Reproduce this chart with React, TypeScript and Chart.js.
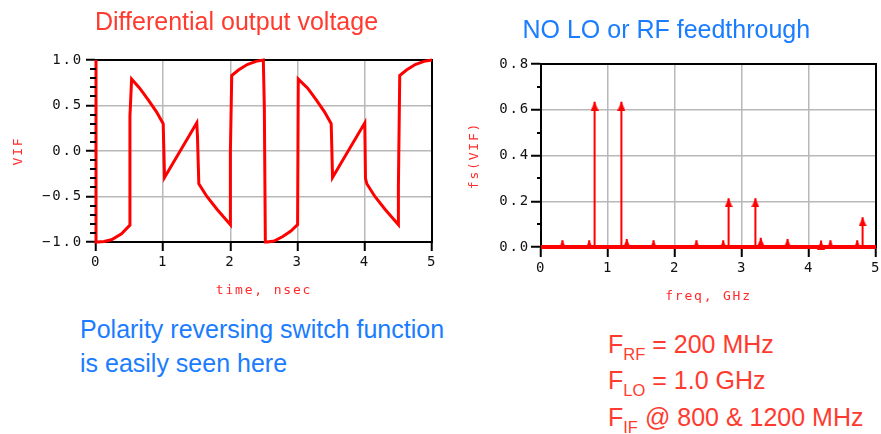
import React, { useEffect, useRef } from 'react';
import { Chart, registerables } from 'chart.js';

Chart.register(...registerables);

// ---- Left chart: differential output voltage (time domain) ----
const timeNs = [
  0, 0, 0.03, 0.12, 0.23, 0.38, 0.505, 0.505, 0.53, 0.65, 0.78, 0.9, 1.0, 1.02, 1.5, 1.51, 1.53, 1.65, 1.8, 2.0,
  2.0, 2.02, 2.12, 2.25, 2.38, 2.49, 2.505, 2.52, 2.55, 2.65, 2.78, 2.9, 3.0, 3.01, 3.15, 3.28, 3.4, 3.5, 3.52,
  4.0, 4.01, 4.03, 4.15, 4.3, 4.5, 4.5, 4.52, 4.62, 4.75, 4.88, 5.0,
];
const vif = [
  1.0, -1.0, -1.0, -0.995, -0.975, -0.91, -0.815, 0.38, 0.79, 0.69, 0.56, 0.43, 0.3, -0.29, 0.31, 0.16, -0.36, -0.5, -0.64, -0.81,
  0.0, 0.83, 0.89, 0.95, 0.985, 1.0, 0.48, -1.0, -1.0, -0.99, -0.94, -0.88, -0.81, 0.79, 0.69, 0.56, 0.43, 0.3, -0.29,
  0.31, -0.3, -0.36, -0.5, -0.64, -0.81, -0.39, 0.83, 0.89, 0.95, 0.985, 1.0,
];
const timeTickStep = 1;
const vifTickStep = 0.5;
const vifMinorStep = 0.1;

// ---- Right chart: spectrum fs(VIF) ----
const freqGHz = [0.32, 0.72, 0.8, 1.2, 1.28, 1.68, 2.32, 2.72, 2.8, 3.2, 3.28, 3.68, 4.18, 4.32, 4.72, 4.8];
const fsVif = [0.03, 0.03, 0.635, 0.635, 0.035, 0.03, 0.03, 0.03, 0.213, 0.213, 0.04, 0.035, 0.028, 0.03, 0.03, 0.13];
const freqRange = [0, 5];
const fsTickStep = 0.2;
const fsMinorStep = 0.1;

const RED = '#ff0000';
const GRID = '#b8b8b8';
const MONO = 'DejaVu Sans Mono';

const spacingPlugin = {
  id: 'spacing',
  beforeUpdate(chart: any) { (chart.ctx as any).letterSpacing = '1.8px'; },
  beforeDraw(chart: any) { (chart.ctx as any).letterSpacing = '1.8px'; },
};

const framePlugin = {
  id: 'frame',
  beforeDatasetsDraw(chart: any) {
    const { ctx, chartArea: a } = chart;
    ctx.save();
    ctx.strokeStyle = '#000';
    ctx.lineWidth = 2;
    ctx.strokeRect(a.left, a.top, a.right - a.left, a.bottom - a.top);
    ctx.restore();
  },
};

const minorTicksPlugin = {
  id: 'minorTicks',
  afterDraw(chart: any, _args: any, opts: any) {
    const y = chart.scales.y;
    const { ctx } = chart;
    ctx.save();
    ctx.strokeStyle = '#000';
    ctx.lineWidth = 2;
    const n = Math.round((y.max - y.min) / opts.step);
    for (let i = 0; i <= n; i++) {
      const v = y.min + i * opts.step;
      const r = v / opts.major;
      if (Math.abs(r - Math.round(r)) < 1e-6) continue;
      const py = Math.round(y.getPixelForValue(v));
      ctx.beginPath();
      ctx.moveTo(y.right - opts.len, py);
      ctx.lineTo(y.right, py);
      ctx.stroke();
    }
    ctx.restore();
  },
};

const fmt = (v: number) => (v < 0 ? '\u2212' : '') + Math.abs(v).toFixed(1);

function makeArrowHead(): HTMLCanvasElement {
  const w = 8, h = 9;
  const c = document.createElement('canvas');
  c.width = w;
  c.height = h * 2;
  const g = c.getContext('2d')!;
  g.fillStyle = RED;
  g.beginPath();
  g.moveTo(w / 2, h);
  g.lineTo(w, 2 * h);
  g.lineTo(0, 2 * h);
  g.closePath();
  g.fill();
  return c;
}

const tickFont = { family: MONO, size: 14 };
const titleFont = { family: MONO, size: 13 };
const TITLE_RED = '#ff2a2a';

function TimeChart() {
  const ref = useRef<HTMLCanvasElement>(null);
  useEffect(() => {
    const chart = new Chart(ref.current!, {
      type: 'line',
      data: {
        datasets: [{
          data: timeNs.map((t, i) => ({ x: t, y: vif[i] })),
          borderColor: RED,
          borderWidth: 3,
          pointRadius: 0,
          tension: 0,
          clip: false as any,
        }],
      },
      options: {
        animation: false,
        responsive: false,
        events: [],
        layout: { padding: { top: 60, right: 18, left: 0, bottom: 0 } },
        plugins: { legend: { display: false }, tooltip: { enabled: false }, minorTicks: { step: vifMinorStep, major: vifTickStep, len: 6 } } as any,
        scales: {
          x: {
            type: 'linear', min: 0, max: 5,
            ticks: { stepSize: timeTickStep, padding: 3, maxRotation: 0, autoSkip: false, color: '#111', font: tickFont, callback: (v: any) => String(v) },
            grid: { color: GRID, lineWidth: 1.5, tickColor: '#000', tickWidth: 2, tickLength: 9 },
            border: { color: '#000', width: 2 },
            title: { display: true, text: 'time, nsec', color: TITLE_RED, font: titleFont, padding: { top: 0, bottom: 1.5 } },
            afterFit: (s: any) => { s.height = 58; s.paddingLeft = 0; s.paddingRight = 0; },
          },
          y: {
            type: 'linear', min: -1, max: 1,
            ticks: { stepSize: vifTickStep, padding: 3, color: '#111', font: tickFont, callback: (v: any) => fmt(v) },
            grid: { color: GRID, lineWidth: 1.5, tickColor: '#000', tickWidth: 2, tickLength: 10 },
            border: { color: '#000', width: 2 },
            title: { display: true, text: 'VIF', color: TITLE_RED, font: titleFont, padding: { top: 11, bottom: 0 } },
            afterFit: (s: any) => { s.width = 96; s.paddingTop = 0; s.paddingBottom = 0; },
          },
        },
      } as any,
      plugins: [spacingPlugin, framePlugin, minorTicksPlugin],
    });
    return () => chart.destroy();
  }, []);
  return <canvas ref={ref} width={450} height={300} style={{ position: 'absolute', left: 0, top: 0, width: 450, height: 300 }} />;
}

function SpectrumChart() {
  const ref = useRef<HTMLCanvasElement>(null);
  useEffect(() => {
    const head = makeArrowHead();
    const stems: any[] = [];
    freqGHz.forEach((f, i) => {
      stems.push({ x: f, y: 0 }, { x: f, y: fsVif[i] }, { x: f, y: null });
    });
    const chart = new Chart(ref.current!, {
      type: 'line',
      data: {
        datasets: [
          {
            data: freqGHz.map((f, i) => ({ x: f, y: fsVif[i] })),
            showLine: false,
            pointStyle: head as any,
            pointRadius: 4,
            clip: false as any,
          },
          {
            data: stems,
            borderColor: RED,
            borderWidth: 2,
            pointRadius: 0,
            spanGaps: false,
            clip: false as any,
          },
          {
            data: [{ x: freqRange[0], y: 0 }, { x: freqRange[1], y: 0 }],
            borderColor: RED,
            borderWidth: 4,
            pointRadius: 0,
            clip: false as any,
          },
        ],
      },
      options: {
        animation: false,
        responsive: false,
        events: [],
        layout: { padding: { top: 64, right: 4, left: 0, bottom: 0 } },
        plugins: { legend: { display: false }, tooltip: { enabled: false }, minorTicks: { step: fsMinorStep, major: fsTickStep, len: 4 } } as any,
        scales: {
          x: {
            type: 'linear', min: freqRange[0], max: freqRange[1],
            ticks: { stepSize: 1, padding: 3, maxRotation: 0, autoSkip: false, color: '#111', font: tickFont, callback: (v: any) => String(v) },
            grid: { color: GRID, lineWidth: 1.5, tickColor: '#000', tickWidth: 2, tickLength: 10 },
            border: { color: '#000', width: 2 },
            title: { display: true, text: 'freq, GHz', color: TITLE_RED, font: titleFont, padding: { top: 0, bottom: 1.5 } },
            afterFit: (s: any) => { s.height = 59; s.paddingLeft = 0; s.paddingRight = 0; },
          },
          y: {
            type: 'linear', min: 0, max: 0.8,
            ticks: { stepSize: fsTickStep, padding: 1, color: '#111', font: tickFont, callback: (v: any) => fmt(v) },
            grid: { color: GRID, lineWidth: 1.5, tickColor: '#000', tickWidth: 2, tickLength: 10 },
            border: { color: '#000', width: 2 },
            title: { display: true, text: 'fs(VIF)', color: TITLE_RED, font: titleFont, padding: { top: 7, bottom: 0 } },
            afterFit: (s: any) => { s.width = 81; s.paddingTop = 0; s.paddingBottom = 0; },
          },
        },
      } as any,
      plugins: [spacingPlugin, framePlugin, minorTicksPlugin],
    });
    return () => chart.destroy();
  }, []);
  return <canvas ref={ref} width={421} height={306} style={{ position: 'absolute', left: 460, top: 0, width: 421, height: 306 }} />;
}

const textBase: React.CSSProperties = {
  position: 'absolute',
  fontFamily: '"Liberation Sans", Arial, sans-serif',
  fontSize: 25,
  lineHeight: '28px',
  whiteSpace: 'nowrap',
};
const RED_TEXT = '#ff3b30';
const BLUE_TEXT = '#1a7cff';
const sub: React.CSSProperties = { fontSize: 16.5, position: 'relative', top: 7 };

export default function App() {
  return (
    <div style={{ position: 'fixed', left: 0, top: 0, width: 881, height: 434, background: '#fff', overflow: 'hidden' }}>
      <TimeChart />
      <SpectrumChart />
      <div style={{ ...textBase, left: 95, top: 6.6, color: RED_TEXT }}>Differential output voltage</div>
      <div style={{ ...textBase, left: 522.5, top: 14.6, color: BLUE_TEXT }}>NO LO or RF feedthrough</div>
      <div style={{ ...textBase, left: 80, top: 314.6, color: BLUE_TEXT }}>Polarity reversing switch function</div>
      <div style={{ ...textBase, left: 80, top: 349, color: BLUE_TEXT }}>is easily seen here</div>
      <div style={{ ...textBase, left: 608, top: 329.6, color: RED_TEXT }}>F<span style={sub}>RF</span> = 200 MHz</div>
      <div style={{ ...textBase, left: 608, top: 366.3, color: RED_TEXT }}>F<span style={sub}>LO</span> = 1.0 GHz</div>
      <div style={{ ...textBase, left: 608, top: 403, color: RED_TEXT }}>F<span style={sub}>IF</span> @ 800 &amp; 1200 MHz</div>
    </div>
  );
}
